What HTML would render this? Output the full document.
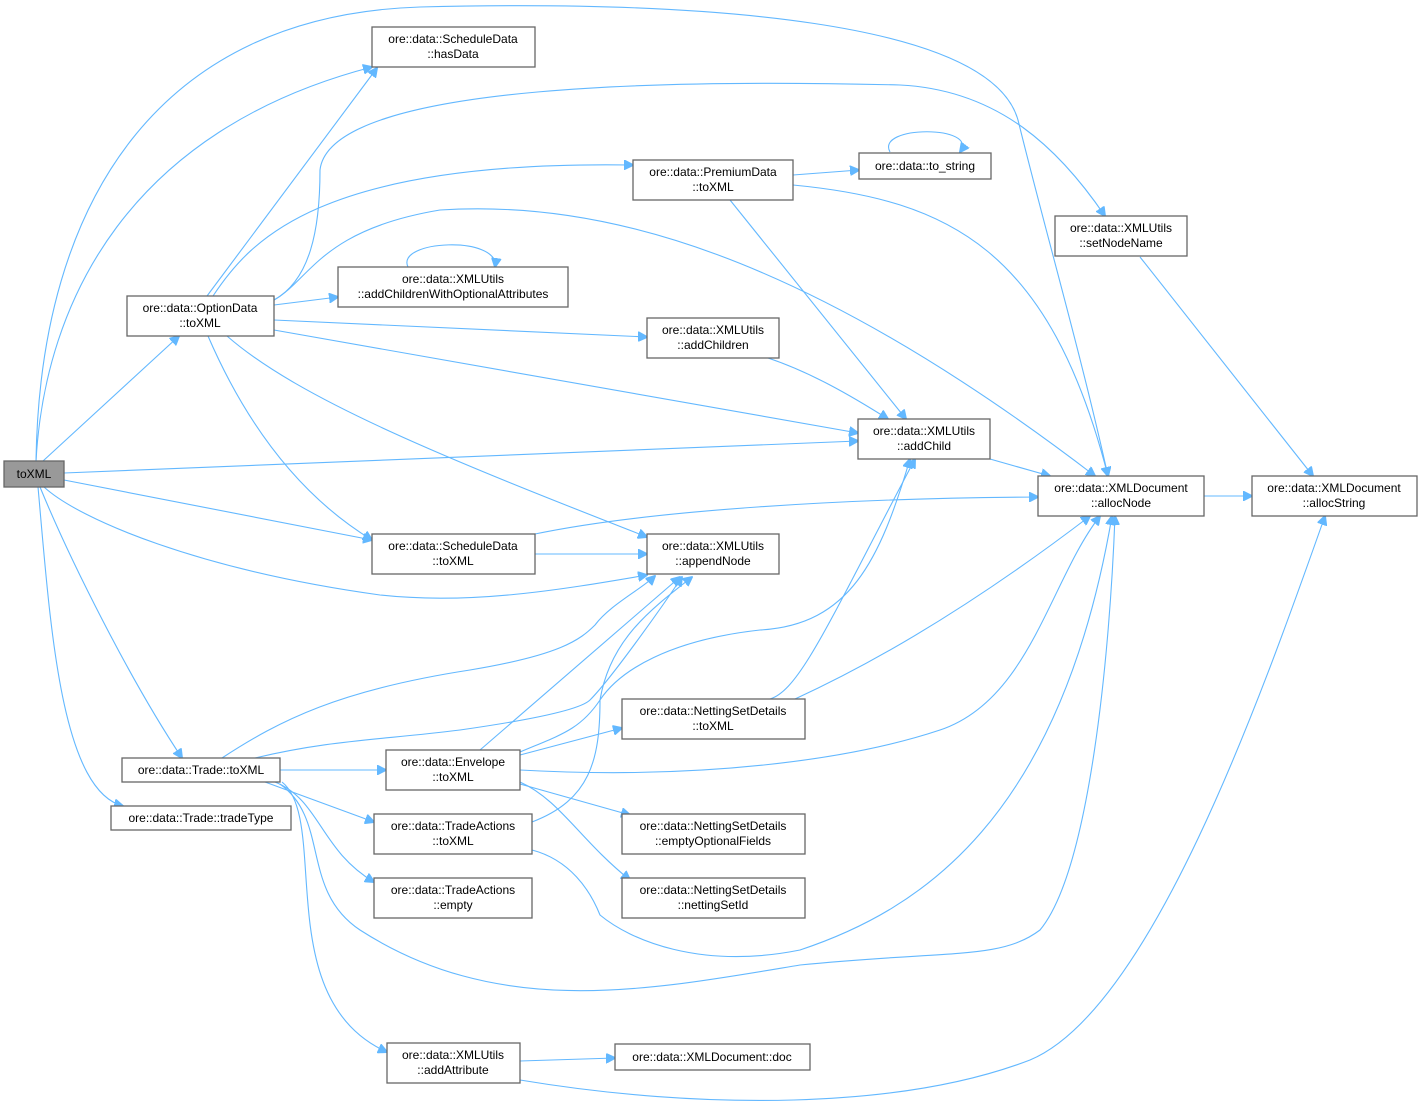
<!DOCTYPE html>
<html><head><meta charset="utf-8"><style>
html,body{margin:0;padding:0;background:#fff;}
svg{display:block;}
text{font-family:"Liberation Sans",Arial,sans-serif;font-size:12px;fill:#000;}
.n{fill:#fff;stroke:#666;stroke-width:1.3;}
.e{fill:none;stroke:#63b8ff;stroke-width:1.1;}
</style></head><body>
<svg width="1423" height="1105" viewBox="0 0 1423 1105" xmlns="http://www.w3.org/2000/svg">
<defs><marker id="a" viewBox="0 0 10 10" refX="9" refY="5" markerWidth="10" markerHeight="10" markerUnits="userSpaceOnUse" orient="auto"><path d="M0,0 L10,5 L0,10 z" fill="#63b8ff" stroke="#63b8ff"/></marker></defs>
<g class="e" marker-end="url(#a)">
<path d="M43,461 L179,336"/>
<path d="M36,461 C45,300 130,130 372,67"/>
<path d="M36,461 C40,200 160,15 420,7 C700,0 990,20 1018,120 C1045,230 1080,350 1108,476"/>
<path d="M64,473 L858,441"/>
<path d="M64,480 L372,540"/>
<path d="M44,487 C80,520 200,570 380,595 C470,605 560,590 647,575"/>
<path d="M40,487 C70,560 130,680 182,758"/>
<path d="M38,487 C50,620 60,790 123,806"/>
<path d="M207,296 L377,68"/>
<path d="M213,296 C250,240 320,160 633,165"/>
<path d="M274,300 C310,280 320,230 320,170 C330,80 700,80 900,85 C1000,90 1060,150 1105,216"/>
<path d="M274,305 L338,297"/>
<path d="M274,320 L647,337"/>
<path d="M274,330 L858,433"/>
<path d="M274,300 C310,280 320,230 440,210 C600,200 800,250 1095,476"/>
<path d="M227,336 C300,400 450,460 647,537"/>
<path d="M208,336 C240,410 290,490 372,540"/>
<path d="M408,267 C395,240 500,235 495,267"/>
<path d="M890,152 C875,125 980,125 960,152"/>
<path d="M793,175 L859,170"/>
<path d="M793,185 C950,200 1050,250 1108,476"/>
<path d="M730,200 L906,419"/>
<path d="M1140,257 L1313,476"/>
<path d="M768,358 C810,372 850,395 888,419"/>
<path d="M990,459 L1050,476"/>
<path d="M1204,496 L1252,496"/>
<path d="M535,554 L647,554"/>
<path d="M535,534 C650,510 850,498 1038,497"/>
<path d="M280,770 L386,770"/>
<path d="M222,758 C280,720 340,690 470,670 C560,655 580,640 595,625 C610,605 640,590 655,576"/>
<path d="M255,758 C330,740 380,740 460,730 C530,720 580,710 590,700 C610,680 660,610 682,577"/>
<path d="M265,782 L374,822"/>
<path d="M275,782 C320,800 320,850 374,882"/>
<path d="M282,782 C330,820 270,1000 387,1052"/>
<path d="M280,784 C330,820 300,890 360,930 C500,1020 650,990 800,965 C950,950 1000,960 1040,930 C1090,870 1110,650 1115,516"/>
<path d="M480,750 L680,577"/>
<path d="M520,755 L622,728"/>
<path d="M520,770 C700,780 850,760 940,730 C1030,700 1050,580 1100,516"/>
<path d="M520,784 L630,815"/>
<path d="M520,782 C560,800 580,840 630,880"/>
<path d="M520,752 C560,735 580,730 600,700 C620,670 670,640 760,630 C850,625 880,560 910,459"/>
<path d="M770,699 C800,690 830,620 915,459"/>
<path d="M795,699 C880,660 980,600 1090,516"/>
<path d="M532,822 C590,800 600,760 600,700 C610,640 650,610 692,577"/>
<path d="M532,850 C570,860 590,890 600,915 C630,940 700,970 800,950 C920,910 1060,820 1112,516"/>
<path d="M520,1061 L615,1058"/>
<path d="M520,1080 C700,1110 900,1110 1030,1060 C1150,1010 1260,700 1325,516"/>
</g>
<g>
<rect x="4" y="461" width="60" height="26" fill="#999" stroke="#666" stroke-width="1.3"/>
<text x="34" y="478" text-anchor="middle">toXML</text>
<rect class="n" x="127" y="296" width="147" height="40"/><text x="200" y="312" text-anchor="middle">ore::data::OptionData</text><text x="200" y="327" text-anchor="middle">::toXML</text>
<rect class="n" x="372" y="27" width="163" height="40"/><text x="453" y="43" text-anchor="middle">ore::data::ScheduleData</text><text x="453" y="58" text-anchor="middle">::hasData</text>
<rect class="n" x="633" y="160" width="160" height="40"/><text x="713" y="176" text-anchor="middle">ore::data::PremiumData</text><text x="713" y="191" text-anchor="middle">::toXML</text>
<rect class="n" x="859" y="153" width="132" height="26"/><text x="925" y="170" text-anchor="middle">ore::data::to_string</text>
<rect class="n" x="1055" y="216" width="132" height="40"/><text x="1121" y="232" text-anchor="middle">ore::data::XMLUtils</text><text x="1121" y="247" text-anchor="middle">::setNodeName</text>
<rect class="n" x="338" y="267" width="230" height="40"/><text x="453" y="283" text-anchor="middle">ore::data::XMLUtils</text><text x="453" y="298" text-anchor="middle">::addChildrenWithOptionalAttributes</text>
<rect class="n" x="647" y="318" width="132" height="40"/><text x="713" y="334" text-anchor="middle">ore::data::XMLUtils</text><text x="713" y="349" text-anchor="middle">::addChildren</text>
<rect class="n" x="858" y="419" width="132" height="40"/><text x="924" y="435" text-anchor="middle">ore::data::XMLUtils</text><text x="924" y="450" text-anchor="middle">::addChild</text>
<rect class="n" x="1038" y="476" width="166" height="40"/><text x="1121" y="492" text-anchor="middle">ore::data::XMLDocument</text><text x="1121" y="507" text-anchor="middle">::allocNode</text>
<rect class="n" x="1252" y="476" width="165" height="40"/><text x="1334" y="492" text-anchor="middle">ore::data::XMLDocument</text><text x="1334" y="507" text-anchor="middle">::allocString</text>
<rect class="n" x="372" y="534" width="163" height="40"/><text x="453" y="550" text-anchor="middle">ore::data::ScheduleData</text><text x="453" y="565" text-anchor="middle">::toXML</text>
<rect class="n" x="647" y="534" width="132" height="40"/><text x="713" y="550" text-anchor="middle">ore::data::XMLUtils</text><text x="713" y="565" text-anchor="middle">::appendNode</text>
<rect class="n" x="622" y="699" width="183" height="40"/><text x="713" y="715" text-anchor="middle">ore::data::NettingSetDetails</text><text x="713" y="730" text-anchor="middle">::toXML</text>
<rect class="n" x="386" y="750" width="134" height="40"/><text x="453" y="766" text-anchor="middle">ore::data::Envelope</text><text x="453" y="781" text-anchor="middle">::toXML</text>
<rect class="n" x="122" y="758" width="158" height="24"/><text x="201" y="774" text-anchor="middle">ore::data::Trade::toXML</text>
<rect class="n" x="111" y="806" width="180" height="24"/><text x="201" y="822" text-anchor="middle">ore::data::Trade::tradeType</text>
<rect class="n" x="374" y="814" width="158" height="40"/><text x="453" y="830" text-anchor="middle">ore::data::TradeActions</text><text x="453" y="845" text-anchor="middle">::toXML</text>
<rect class="n" x="622" y="814" width="183" height="40"/><text x="713" y="830" text-anchor="middle">ore::data::NettingSetDetails</text><text x="713" y="845" text-anchor="middle">::emptyOptionalFields</text>
<rect class="n" x="374" y="878" width="158" height="40"/><text x="453" y="894" text-anchor="middle">ore::data::TradeActions</text><text x="453" y="909" text-anchor="middle">::empty</text>
<rect class="n" x="622" y="878" width="183" height="40"/><text x="713" y="894" text-anchor="middle">ore::data::NettingSetDetails</text><text x="713" y="909" text-anchor="middle">::nettingSetId</text>
<rect class="n" x="387" y="1043" width="133" height="40"/><text x="453" y="1059" text-anchor="middle">ore::data::XMLUtils</text><text x="453" y="1074" text-anchor="middle">::addAttribute</text>
<rect class="n" x="615" y="1044" width="195" height="26"/><text x="712" y="1061" text-anchor="middle">ore::data::XMLDocument::doc</text>
</g>
</svg>
</body></html>
